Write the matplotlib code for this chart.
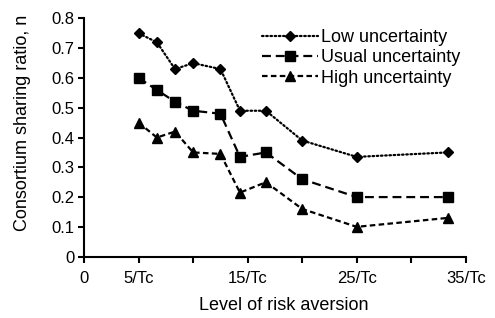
import matplotlib
matplotlib.use("Agg")
import matplotlib.pyplot as plt

plt.rcParams['font.family'] = ['Liberation Sans', 'DejaVu Sans']

# risk aversion level (in units of 1/Tc) and sharing ratios
risk_level = [5, 6.67, 8.33, 10, 12.5, 14.29, 16.67, 20, 25, 33.33]
low_unc = [0.75, 0.72, 0.63, 0.65, 0.63, 0.49, 0.49, 0.39, 0.335, 0.35]
usual_unc = [0.60, 0.56, 0.52, 0.49, 0.48, 0.335, 0.35, 0.26, 0.20, 0.20]
high_unc = [0.45, 0.40, 0.42, 0.35, 0.345, 0.215, 0.25, 0.16, 0.10, 0.13]

x_ticks = [0, 5, 10, 15, 20, 25, 30, 35]
x_ticklabels = ['0', '5/Tc', '', '15/Tc', '', '25/Tc', '', '35/Tc']
y_ticks = [0, 0.1, 0.2, 0.3, 0.4, 0.5, 0.6, 0.7, 0.8]
y_ticklabels = ['0', '0.1', '0.2', '0.3', '0.4', '0.5', '0.6', '0.7', '0.8']

fig = plt.figure(figsize=(4.95, 3.18), dpi=100)
ax = fig.add_axes([0.170, 0.193, 0.771, 0.749])

ax.plot(risk_level, low_unc, color='black', lw=1.6, dashes=(0.7, 1.2),
        dash_capstyle='round', marker='D', ms=5.5, label='Low uncertainty')
ax.plot(risk_level, usual_unc, color='black', lw=1.6, dashes=(4, 2.2),
        marker='s', ms=7, label='Usual uncertainty')
ax.plot(risk_level, high_unc, color='black', lw=1.6, dashes=(2.5, 1.5),
        marker='^', ms=7.5, label='High uncertainty')

ax.set_xlim(0, 35)
ax.set_ylim(0, 0.8)
ax.set_xticks(x_ticks)
ax.set_xticklabels(x_ticklabels, fontsize=12)
ax.set_yticks(y_ticks)
ax.set_yticklabels(y_ticklabels, fontsize=12)
ax.tick_params(direction='out', length=4, width=1.5, colors='black', pad=3)
ax.tick_params(axis='x', pad=6.5)

for s in ['top', 'right']:
    ax.spines[s].set_visible(False)
for s in ['left', 'bottom']:
    ax.spines[s].set_linewidth(1.5)

fig.text(0.574, 0.012, 'Level of risk aversion', fontsize=13, ha='center', va='bottom')
fig.text(0.046, 0.615, 'Consortium sharing ratio, n', fontsize=13, rotation=90,
         ha='center', va='center')

ax.legend(loc='upper right', bbox_to_anchor=(1.005, 0.985), frameon=False,
          fontsize=13, handlelength=3.1, handletextpad=0.2, labelspacing=0.18,
          borderaxespad=0)

fig.savefig('out.png', dpi=100)
